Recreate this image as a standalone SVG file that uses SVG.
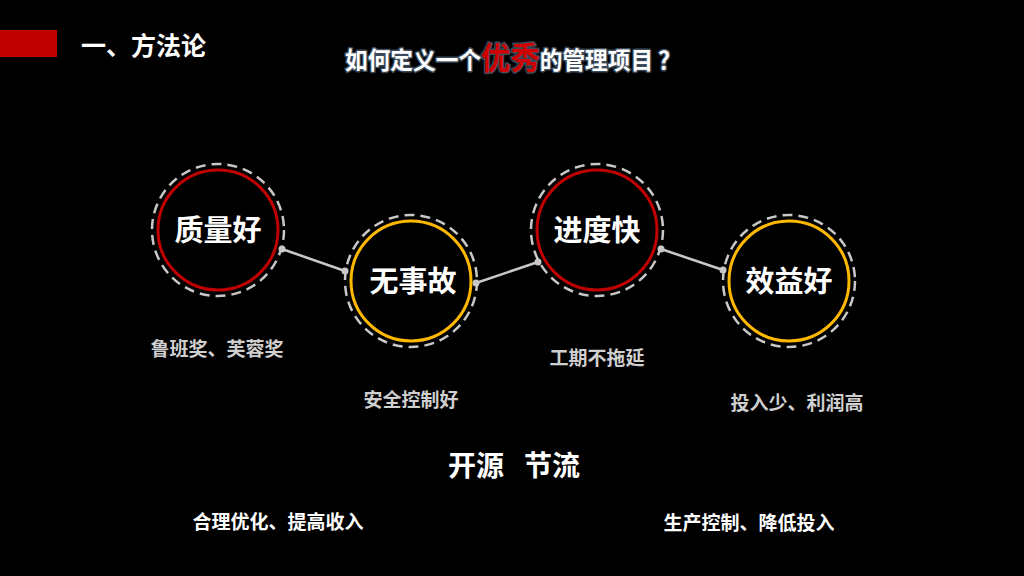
<svg xmlns="http://www.w3.org/2000/svg" width="1024" height="576" viewBox="0 0 1024 576">
<style>
text{font-family:"Noto Sans CJK SC","Noto Sans",sans-serif;font-weight:bold}
.node{font-size:29px;fill:#fff;text-anchor:middle}
.sub{font-size:19px;fill:#cfcfcf;text-anchor:middle}
.bot{font-size:19px;fill:#fff;text-anchor:middle}
.big{font-size:28px;fill:#fff;text-anchor:middle}
.dash{fill:none;stroke:#c8c8c8;stroke-width:2.5;stroke-dasharray:10 6}
.red{fill:#000;stroke:#c00000;stroke-width:3}
.yel{fill:#000;stroke:#ffb800;stroke-width:3}
.conn{stroke:#c8c8c8;stroke-width:2.5}
.dot{fill:#c8c8c8}
</style>
<rect width="1024" height="576" fill="#000"/>
<rect x="0" y="30" width="57" height="27" fill="#c00000"/>
<text x="81" y="55" font-size="25" fill="#fff">一、方法论</text>
<text x="345" y="69" font-size="24" fill="#fff" stroke="#3a4a5a" stroke-width="3" paint-order="stroke" stroke-linejoin="round" textLength="336" lengthAdjust="spacingAndGlyphs">如何定义一个<tspan fill="#d00000" font-size="31">优秀</tspan>的管理项目 ？</text>
<g id="connectors">
<line class="conn" x1="282" y1="249" x2="345" y2="271"/>
<line class="conn" x1="476" y1="283" x2="538" y2="262"/>
<line class="conn" x1="661" y1="249" x2="723" y2="270"/>
<circle class="dot" cx="282" cy="249" r="3.5"/>
<circle class="dot" cx="345" cy="271" r="3.5"/>
<circle class="dot" cx="476" cy="283" r="3.5"/>
<circle class="dot" cx="538" cy="262" r="3.5"/>
<circle class="dot" cx="661" cy="249" r="3.5"/>
<circle class="dot" cx="723" cy="270" r="3.5"/>
</g>
<g id="node1">
<circle class="dash" cx="218" cy="230" r="66"/>
<circle class="red" cx="218" cy="230" r="60"/>
<text class="node" x="218" y="241">质量好</text>
</g>
<g id="node2">
<circle class="dash" cx="411" cy="281" r="66"/>
<circle class="yel" cx="411" cy="281" r="60"/>
<text class="node" x="413" y="292">无事故</text>
</g>
<g id="node3">
<circle class="dash" cx="597" cy="230" r="66"/>
<circle class="red" cx="597" cy="230" r="60"/>
<text class="node" x="597" y="241">进度快</text>
</g>
<g id="node4">
<circle class="dash" cx="789" cy="281" r="66"/>
<circle class="yel" cx="789" cy="281" r="60"/>
<text class="node" x="789" y="292">效益好</text>
</g>
<text class="sub" x="217" y="356">鲁班奖、芙蓉奖</text>
<text class="sub" x="411" y="407">安全控制好</text>
<text class="sub" x="597" y="365">工期不拖延</text>
<text class="sub" x="797" y="410">投入少、利润高</text>
<text class="big" x="476" y="476">开源</text>
<text class="big" x="552" y="476">节流</text>
<text class="bot" x="278" y="529">合理优化、提高收入</text>
<text class="bot" x="749" y="530">生产控制、降低投入</text>
</svg>
